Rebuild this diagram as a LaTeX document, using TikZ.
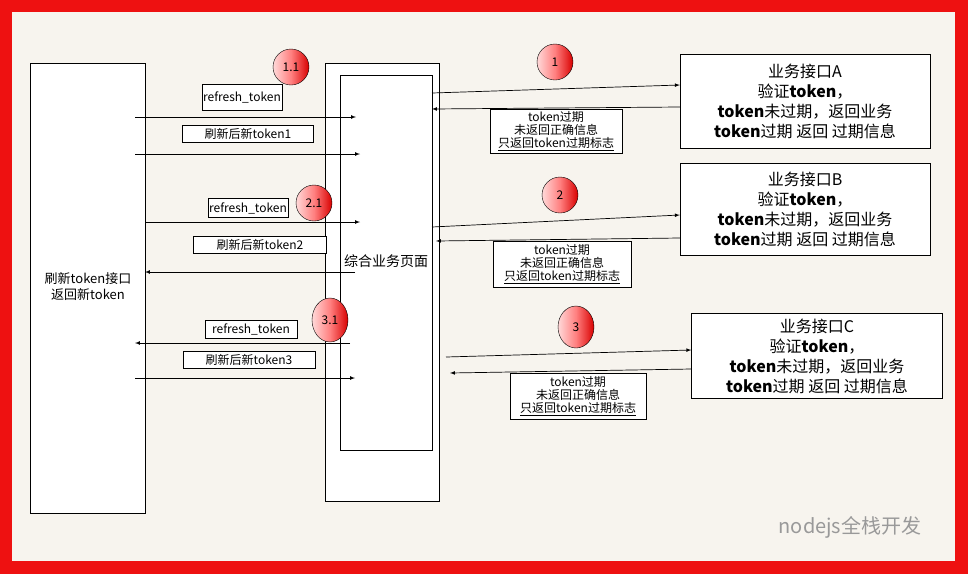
\documentclass[tikz,border=0pt]{standalone}
\usepackage{fontspec}
\setmainfont{Noto Sans CJK SC}
\usetikzlibrary{shapes.geometric}
\definecolor{bg}{HTML}{F7F4EE}
\definecolor{frame}{HTML}{EE1111}
\begin{document}
\begin{tikzpicture}[x=1pt,y=-1pt,
  box/.style={draw,fill=white,line width=0.8pt},
  lbl/.style={draw,fill=white,inner sep=1pt,font=\fontsize{12}{13}\selectfont},
  info/.style={draw,fill=white,inner sep=1pt,align=center,font=\fontsize{12}{13}\selectfont},
  api/.style={draw,fill=white,align=center,inner sep=0pt,font=\fontsize{16}{20}\selectfont},
  num/.style={ellipse,draw,inner sep=0pt,left color=red!15,right color=red!85!black,middle color=red!50,font=\fontsize{12}{13}\selectfont},
  arr/.style={-latex,line width=0.7pt}]
\fill[frame] (0,0) rectangle (968,574);
\fill[bg] (12,12) rectangle (955,561);
\useasboundingbox (0,0) rectangle (968,574);
% main boxes
\draw[box] (30,63) rectangle (145,513);
\node[align=center,font=\fontsize{13}{16}\selectfont] (refresh) at (88,287) {刷新token接口\\返回新token};
\draw[box] (325,63) rectangle (439,501);
\draw[box] (340,75) rectangle (432,450);
\node[font=\fontsize{14}{16}\selectfont] (page) at (386,261) {综合业务页面};
% api boxes
\node[api,minimum width=250,minimum height=94] (A) at (805,101) {业务接口A\\验证\textbf{token}，\\\textbf{token}未过期，返回业务\\\textbf{token}过期 返回 过期信息};
\node[api,minimum width=250,minimum height=92] (B) at (805,209) {业务接口B\\验证\textbf{token}，\\\textbf{token}未过期，返回业务\\\textbf{token}过期 返回 过期信息};
\node[api,minimum width=251,minimum height=85] (C) at (817,356) {业务接口C\\验证\textbf{token}，\\\textbf{token}未过期，返回业务\\\textbf{token}过期 返回 过期信息};
% labels
\node[lbl,minimum width=71,minimum height=26] (r1) at (242,97) {refresh\_token};
\node[lbl,minimum width=131,minimum height=17] (t1) at (248,134) {刷新后新token1};
\node[lbl,minimum width=80,minimum height=19] (r2) at (248,208) {refresh\_token};
\node[lbl,minimum width=133,minimum height=17] (t2) at (260,245) {刷新后新token2};
\node[lbl,minimum width=92,minimum height=18] (r3) at (251,329) {refresh\_token};
\node[lbl,minimum width=132,minimum height=17] (t3) at (249,360) {刷新后新token3};
\node[info,minimum width=132,minimum height=44] (i1) at (556,131) {token过期\\未返回正确信息\\\underline{只返回token过期标志}};
\node[info,minimum width=138,minimum height=46] (i2) at (562,264) {token过期\\未返回正确信息\\\underline{只返回token过期标志}};
\node[info,minimum width=136,minimum height=46] (i3) at (578,396) {token过期\\未返回正确信息\\\underline{只返回token过期标志}};
% circles
\node[num,minimum width=36,minimum height=36] (c11) at (291,67) {1.1};
\node[num,minimum width=36,minimum height=36] (c21) at (314,203) {2.1};
\node[num,minimum width=36,minimum height=44] (c31) at (330,320) {3.1};
\node[num,minimum width=36,minimum height=36] (c1) at (555,62) {1};
\node[num,minimum width=36,minimum height=36] (c2) at (560,195) {2};
\node[num,minimum width=36,minimum height=42] (c3) at (576,327) {3};
% left arrows
\coordinate (a1s) at (135,117); \coordinate (a1e) at (356,117);
\coordinate (a2s) at (135,154); \coordinate (a2e) at (360,154);
\coordinate (a3s) at (145,222); \coordinate (a3e) at (360,222);
\coordinate (a4s) at (355,272); \coordinate (a4e) at (145,272);
\coordinate (a5s) at (350,343); \coordinate (a5e) at (135,343);
\coordinate (a6s) at (135,378); \coordinate (a6e) at (355,378);
\foreach \i in {1,...,6} \draw[arr] (a\i s) -- (a\i e);
% right arrows
\draw[arr] (432,93) -- (A.west |- 0,85);
\draw[arr] (A.west |- 0,107) -- (432,109);
\draw[arr] (432,227) -- (B.west |- 0,215);
\draw[arr] (B.west |- 0,238) -- (436,241);
\draw[arr] (446,357) -- (C.west |- 0,350);
\draw[arr] (C.west |- 0,369) -- (450,373);
% watermark
\node[text=gray!80,font=\fontsize{20}{22}\selectfont] (wm) at (850,527) {nodejs全栈开发};
\end{tikzpicture}
\end{document}
